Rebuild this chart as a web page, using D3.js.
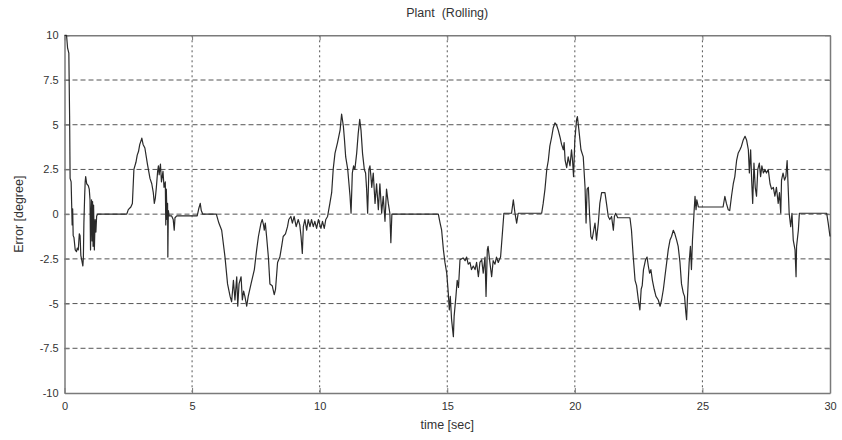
<!DOCTYPE html>
<html>
<head>
<meta charset="utf-8">
<script src="https://cdn.jsdelivr.net/npm/d3@7"></script>
<style>
  html, body { margin: 0; padding: 0; background: #fff; }
  svg { display: block; font-family: "Liberation Sans", Arial, sans-serif; }
</style>
</head>
<body>
<svg id="chart" width="842" height="440"></svg>
<script>
// Rolling-axis tracking error of the plant, sampled [time (s), error (deg)]
const error0to5 = [
  [0,10],[0.08,10],[0.12,9.3],[0.17,9.0],[0.2,5.5],[0.22,2.0],[0.26,1.8],[0.28,0.6],[0.3,-0.6],[0.32,0.3],
  [0.34,-1.2],[0.37,-1.3],[0.42,-2.0],[0.47,-2.1],[0.5,-1.9],[0.54,-2.0],[0.58,-1.1],[0.61,-1.2],[0.64,-2.3],
  [0.68,-2.6],[0.72,-2.9],[0.74,-2.4],[0.76,-0.5],[0.79,1.0],[0.81,1.8],[0.83,2.1],[0.87,1.7],[0.93,1.6],
  [0.97,1.4],[1.0,0.8],[1.02,-2.0],[1.04,-0.2],[1.06,0.8],[1.08,-1.5],[1.1,0.7],[1.12,-1.8],[1.14,0.5],
  [1.17,-2.0],[1.2,-0.3],[1.23,-1.0],[1.26,-0.1],[1.3,0],[2.44,0],[2.5,0.25],[2.6,0.4],[2.66,0.6],[2.72,2.5],
  [2.8,2.9],[2.85,3.3],[2.9,3.5],[2.95,3.9],[3.0,4.1],[3.03,4.25],[3.08,3.9],[3.15,3.7],[3.25,2.8],[3.35,2.0],
  [3.42,1.7],[3.48,1.2],[3.52,0.6],[3.56,0.9],[3.6,1.5],[3.65,2.4],[3.68,2.7],[3.71,2.2],[3.76,2.8],[3.8,1.8],
  [3.86,2.4],[3.9,1.5],[3.95,1.8],[3.97,-0.6],[3.99,1.4],[4.02,-0.3],[4.04,0.6],[4.05,-2.4],[4.07,0.2],
  [4.1,-0.1],[4.2,-0.1],[4.26,-0.3],[4.3,-0.9],[4.33,-0.2],[4.4,-0.1],[5.2,-0.1],[5.26,0.3],[5.32,0.6],
  [5.36,0.2],[5.42,0.0],[5.95,0.0]
];
const error5to10 = [
  [6.05,-0.5],[6.16,-0.9],[6.29,-2.4],[6.39,-3.9],[6.49,-4.6],[6.55,-4.9],[6.62,-3.7],[6.68,-4.8],[6.75,-3.5],
  [6.79,-5.15],[6.84,-3.9],[6.92,-3.5],[6.97,-4.8],[7.02,-4.3],[7.07,-4.6],[7.14,-5.15],[7.2,-4.6],[7.31,-3.9],
  [7.44,-3.1],[7.53,-2.0],[7.6,-1.25],[7.7,-0.5],[7.75,-0.3],[7.8,-0.6],[7.83,-0.9],[7.87,-0.5],[7.92,-1.25],
  [7.99,-2.4],[8.05,-3.9],[8.14,-4.0],[8.22,-4.5],[8.27,-4.2],[8.35,-2.7],[8.44,-2.4],[8.51,-1.8],[8.57,-1.25],
  [8.66,-1.1],[8.74,-0.7],[8.79,-0.3],[8.87,-0.13],[8.93,-0.5],[9.0,-0.13],[9.08,-0.7],[9.16,-0.3],[9.22,-0.6],
  [9.27,-1.25],[9.32,-2.2],[9.36,-0.7],[9.42,-0.3],[9.49,-0.9],[9.55,-0.3],[9.62,-0.7],[9.68,-0.3],[9.75,-0.7],
  [9.81,-0.4],[9.88,-0.8],[9.95,-0.3],[10.05,-0.8],[10.11,-0.4],[10.18,-0.8],[10.24,-0.3]
];
const error10to15 = [
  [10.31,-0.13],[10.4,0.6],[10.47,1.2],[10.53,2.5],[10.6,3.4],[10.7,4.0],[10.8,4.7],[10.86,5.6],[10.93,4.9],
  [10.97,4.2],[11.02,3.2],[11.1,2.5],[11.19,1.0],[11.23,0.05],[11.28,2.3],[11.33,2.7],[11.38,2.5],[11.45,3.4],
  [11.51,4.5],[11.57,5.3],[11.62,4.7],[11.68,3.4],[11.75,2.5],[11.8,2.3],[11.84,1.4],[11.88,0.05],[11.93,2.5],
  [11.97,2.7],[12.01,2.1],[12.04,1.5],[12.1,2.3],[12.17,0.6],[12.23,1.7],[12.3,0.25],[12.36,1.7],[12.43,0.05],
  [12.49,1.0],[12.56,-0.4],[12.62,1.4],[12.69,0.6],[12.75,0.05],[12.79,-1.6],[12.83,0],[14.65,0],[14.72,-0.5],
  [14.78,-0.9],[14.85,-2.0],[14.91,-2.7],[14.98,-3.3],[15.04,-4.4],[15.08,-5.35],[15.12,-4.6],[15.17,-5.9],
  [15.24,-6.85],[15.27,-5.7],[15.34,-4.6],[15.39,-3.7],[15.44,-4.1],[15.5,-2.55]
];
const error15to20 = [
  [15.62,-2.45],[15.7,-2.6],[15.76,-2.4],[15.82,-2.8],[15.89,-2.7],[15.95,-3.1],[16.02,-2.9],[16.09,-3.1],
  [16.15,-2.7],[16.22,-3.5],[16.28,-2.7],[16.35,-2.55],[16.41,-3.3],[16.48,-2.4],[16.52,-4.6],[16.57,-2.0],
  [16.6,-1.8],[16.67,-2.7],[16.74,-3.5],[16.8,-2.6],[16.87,-2.8],[16.93,-2.4],[17.0,-2.7],[17.04,-2.55],
  [17.09,-2.4],[17.17,-0.9],[17.22,0.05],[17.52,0.05],[17.59,0.8],[17.65,0.1],[17.72,-0.5],[17.78,0.05],
  [18.7,0.05],[18.76,0.6],[18.83,1.4],[18.9,2.5],[18.96,3.0],[19.02,3.8],[19.09,4.3],[19.15,4.8],[19.22,5.1],
  [19.28,5.0],[19.35,4.7],[19.42,4.3],[19.48,3.9],[19.55,3.6],[19.58,4.0],[19.62,3.0],[19.68,2.6],[19.74,3.2],
  [19.81,2.7],[19.87,3.6],[19.91,3.0],[19.95,2.1],[20.0,4.15]
];
const error20to25 = [
  [20.07,5.3],[20.1,5.45],[20.16,4.7],[20.24,3.6],[20.33,3.2],[20.4,1.5],[20.44,-0.5],[20.48,1.4],[20.53,1.5],
  [20.58,-0.1],[20.63,-1.25],[20.68,-1.4],[20.74,-0.9],[20.79,-0.5],[20.85,-1.45],[20.92,-0.5],[20.98,0.6],
  [21.05,1.2],[21.18,1.2],[21.24,0.6],[21.31,-0.13],[21.37,-0.3],[21.44,-0.13],[21.51,-0.9],[21.55,-0.13],
  [21.6,0.05],[21.68,-0.2],[22.16,-0.2],[22.22,-0.9],[22.29,-2.4],[22.36,-3.7],[22.42,-4.0],[22.49,-4.8],
  [22.55,-5.35],[22.6,-4.2],[22.64,-4.0],[22.69,-3.1],[22.77,-2.55],[22.83,-2.4],[22.88,-2.9],[22.93,-3.3],
  [22.98,-3.1],[23.04,-3.7],[23.11,-4.2],[23.18,-4.6],[23.27,-4.8],[23.34,-5.15],[23.4,-4.8],[23.47,-4.2],
  [23.53,-3.5],[23.6,-2.7],[23.66,-2.0],[23.73,-1.45],[23.79,-1.25],[23.86,-0.9],[23.92,-1.1],[23.99,-1.45],
  [24.05,-1.8],[24.12,-2.7],[24.18,-3.9],[24.25,-4.4],[24.3,-4.6],[24.35,-5.5],[24.38,-5.9],[24.41,-4.8],
  [24.44,-3.9],[24.48,-2.7],[24.53,-1.8],[24.57,-3.1],[24.61,-1.45],[24.67,0.05],[24.71,1.0],[24.75,0.25],
  [24.78,0.8],[24.84,0.4]
];
const error25to30 = [
  [25.81,0.4],[25.88,1.0],[25.94,0.6],[26.01,0.25],[26.07,0.2],[26.14,1.0],[26.21,1.7],[26.27,2.1],[26.34,3.0],
  [26.4,3.4],[26.47,3.6],[26.53,3.8],[26.6,4.15],[26.67,4.35],[26.73,4.15],[26.8,3.6],[26.84,2.3],[26.89,3.6],
  [26.93,1.9],[26.97,0.6],[27.02,2.85],[27.07,1.5],[27.12,1.0],[27.17,2.5],[27.23,2.85],[27.28,2.1],[27.33,2.7],
  [27.39,2.3],[27.45,2.5],[27.51,2.3],[27.58,2.5],[27.65,1.7],[27.71,1.4],[27.78,1.5],[27.84,1.0],[27.9,1.5],
  [27.97,0.6],[28.02,1.2],[28.07,0.05],[28.1,1.9],[28.16,2.3],[28.22,1.9],[28.27,2.1],[28.32,3.0],[28.36,1.5],
  [28.4,0.05],[28.46,-0.7],[28.51,0.05],[28.56,-1.45],[28.63,-2.0],[28.67,-3.5],[28.69,-1.8],[28.76,-0.9],
  [28.8,0.05],[29.87,0.05],[29.93,-0.5],[30.0,-1.25]
];

const xTicks = [0, 5, 10, 15, 20, 25, 30];
const yTicks = [-10, -7.5, -5, -2.5, 0, 2.5, 5, 7.5, 10];
const titleText = "Plant  (Rolling)";
const xLabel = "time [sec]";
const yLabel = "Error [degree]";

const trace = [].concat(error0to5, error5to10, error10to15, error15to20, error20to25, error25to30);

const svg = d3.select("#chart");
const margin = { left: 64.5, right: 12, top: 35.3, bottom: 47 };
const W = 842, H = 440;
const x = d3.scaleLinear().domain([0, 30]).range([margin.left, W - margin.right]);
const y = d3.scaleLinear().domain([-10, 10]).range([H - margin.bottom, margin.top]);

const axisColor = "#7a7a7a";
const textColor = "#333";

// grid
const grid = svg.append("g");
grid.selectAll("line.h").data(yTicks.slice(1, -1)).join("line")
  .attr("x1", x(0)).attr("x2", x(30))
  .attr("y1", d => y(d)).attr("y2", d => y(d))
  .attr("stroke", "#555").attr("stroke-width", 1).attr("stroke-dasharray", "5,3");
grid.selectAll("line.v").data(xTicks.slice(1, -1)).join("line")
  .attr("x1", d => x(d)).attr("x2", d => x(d))
  .attr("y1", y(10)).attr("y2", y(-10))
  .attr("stroke", "#555").attr("stroke-width", 1).attr("stroke-dasharray", "2,3");

// axes with inward ticks
const fmt = d => String(d);
const axB = svg.append("g").attr("transform", `translate(0,${y(-10)})`)
  .call(d3.axisBottom(x).tickValues(xTicks).tickFormat(fmt).tickSizeInner(-5).tickSizeOuter(0).tickPadding(9));
const axL = svg.append("g").attr("transform", `translate(${x(0)},0)`)
  .call(d3.axisLeft(y).tickValues(yTicks).tickFormat(fmt).tickSizeInner(-5).tickSizeOuter(0).tickPadding(7));
const axT = svg.append("g").attr("transform", `translate(0,${y(10)})`)
  .call(d3.axisTop(x).tickValues(xTicks).tickFormat("").tickSizeInner(-5).tickSizeOuter(0));
const axR = svg.append("g").attr("transform", `translate(${x(30)},0)`)
  .call(d3.axisRight(y).tickValues(yTicks).tickFormat("").tickSizeInner(-5).tickSizeOuter(0));

[axB, axL, axT, axR].forEach(a => {
  a.select(".domain").attr("stroke", axisColor).attr("stroke-width", 1.5);
  a.selectAll(".tick line").attr("stroke", axisColor);
  a.selectAll("text").attr("fill", textColor).attr("font-size", 11)
    .attr("font-family", '"Liberation Sans", Arial, sans-serif');
});
axL.selectAll("text").attr("dx", "0.1em");

// error trace
svg.append("path")
  .datum(trace)
  .attr("fill", "none")
  .attr("stroke", "#2a2a2a")
  .attr("stroke-width", 1.2)
  .attr("stroke-linejoin", "round")
  .attr("d", d3.line().x(d => x(d[0])).y(d => y(d[1])));

// labels
svg.append("text").attr("x", (x(0) + x(30)) / 2).attr("y", 17)
  .attr("text-anchor", "middle").attr("font-size", 12.5).attr("fill", textColor)
  .attr("xml:space", "preserve").style("white-space", "pre")
  .text(titleText);
svg.append("text").attr("x", (x(0) + x(30)) / 2).attr("y", 429)
  .attr("text-anchor", "middle").attr("font-size", 12.5).attr("fill", textColor)
  .text(xLabel);
svg.append("text").attr("transform", `translate(23,${(y(10) + y(-10)) / 2}) rotate(-90)`)
  .attr("text-anchor", "middle").attr("font-size", 12.5).attr("fill", textColor)
  .text(yLabel);
</script>
</body>
</html>
